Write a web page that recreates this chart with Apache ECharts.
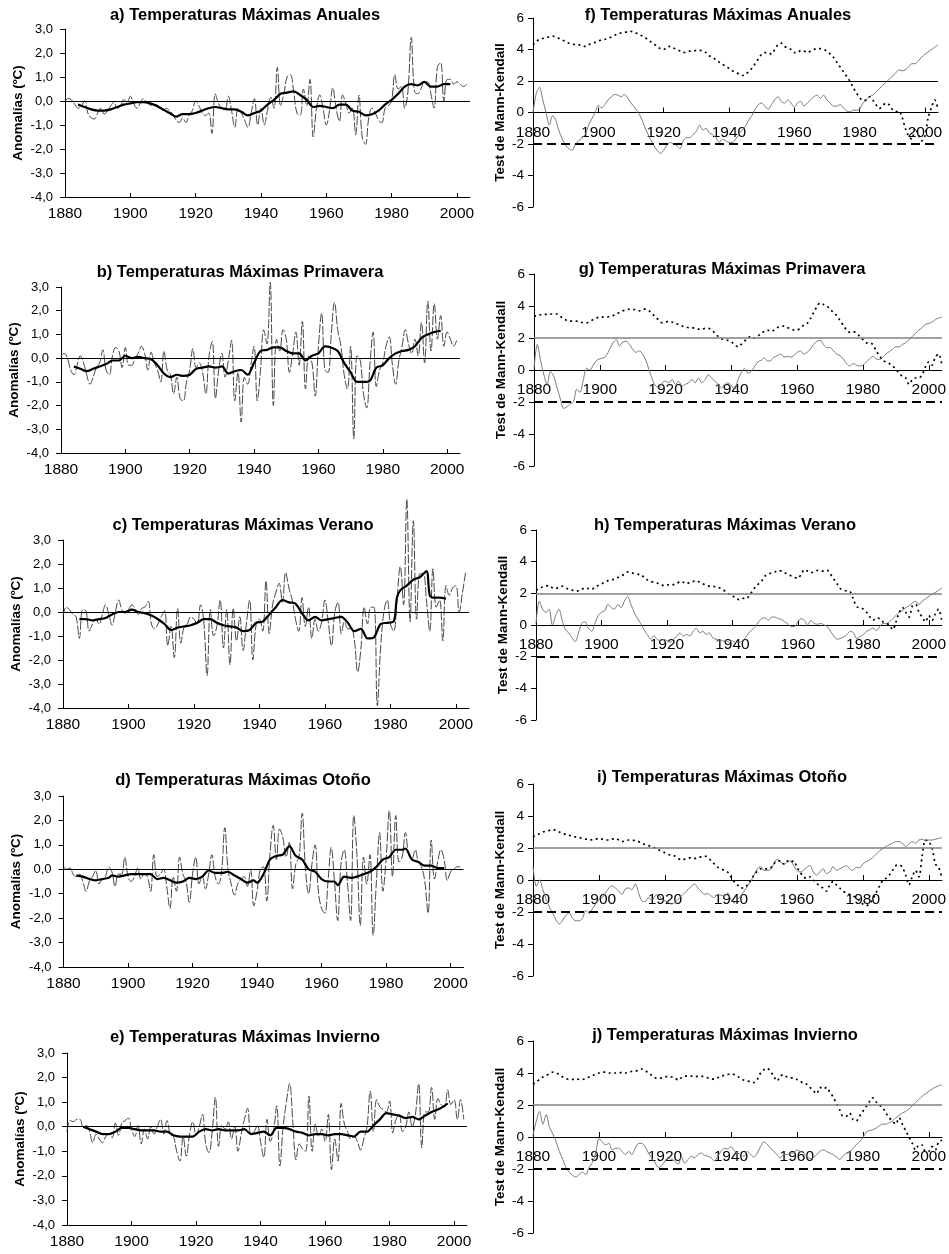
<!DOCTYPE html>
<html>
<head>
<meta charset="utf-8">
<script src="https://cdn.jsdelivr.net/npm/echarts@6/dist/echarts.min.js"></script>
<style>
  html, body { margin: 0; padding: 0; background: #fff; }
  #chart { width: 949px; height: 1254px; }
</style>
</head>
<body>
<div id="chart"></div>
<script>
// ---------- data ----------
const FIRST_YEAR = 1880;
const xTickYears = [1880, 1900, 1920, 1940, 1960, 1980, 2000];

// Annual anomalies of maximum temperature (ºC), 1880-2003
const anomAnnual = [
  0.0, 0.1, 0.05, -0.15, -0.3, -0.2, 0.0, -0.5, -0.7, -0.75,
  -0.5, -0.3, -0.55, -0.4, -0.2, -0.05, -0.3, -0.2, 0.05, -0.05,
  0.2, -0.1, -0.3, -0.1, 0.1, -0.05, -0.15, -0.2, -0.15, -0.3,
  -0.4, -0.3, -0.4, -0.55, -0.8, -0.9, -0.7, -0.9, -0.6, -0.4,
  0.0, -0.2, -0.5, -0.6, -0.5, -1.35, 0.3, -0.1, -0.3, -0.35,
  0.2, -0.4, -1.1, -0.3, -0.5, -0.8, -1.1, -0.5, 0.1, -1.0,
  -0.3, -1.0, -0.4, 0.15, -0.3, 1.4, -0.2, 0.3, 1.0, 1.1,
  0.4, -0.5, -0.6, 0.5, -0.2, 0.9, -1.5, -0.3, 0.25, -0.3,
  -1.0, -0.4, 0.55, -0.3, -0.85, 0.25, -0.1, -0.5, -0.3, -1.4,
  0.25, -1.5, -1.8, -0.7, -0.3, -0.5, -0.8, -0.9, -0.3, -0.2,
  0.0, 1.1, 0.5, 0.6, -0.3, 0.4, 2.65, 0.4, 0.3, 0.5,
  0.8, 0.8, 0.3, -0.3, 1.4, 1.6, 0.0, 0.9, 0.9, 0.7,
  0.8, 0.7, 0.6, 0.7
];
const anomSpring = [
  0.1, 0.2, 0.0, -0.5, -0.7, -0.3, 0.1, -0.2, -0.7, -1.1,
  -0.8, -0.4, -0.2, 0.35, -0.5, -0.7, 0.1, 0.45, 0.3, -0.4,
  0.45, -0.3, -0.3, 0.0, 0.2, 0.5, 0.2, -0.5, 0.25, -0.2,
  -0.5, -1.0, 0.3, -0.5, -0.7, -1.5, -0.8, -1.7, -1.8, -1.0,
  -0.5, 0.4, -0.4, -0.2, -0.6, -1.5, 0.1, 0.7, -1.7, -0.5,
  0.2, -0.8, -0.1, 0.75, -1.8, -0.6, -2.7, -0.8, -1.1, -0.3,
  0.5, -1.8, -0.5, 1.2, 0.6, 3.2, -2.0, 0.8, 0.3, 1.2,
  0.8, -0.6, 0.2, 1.1, -0.3, 1.55, -1.3, 0.1, -0.2, -1.6,
  0.5, 1.9, -0.5, -0.6, 1.0, 2.35, 1.2, 0.5, -0.7, -1.3,
  0.5, -3.4, 0.1, -0.1, -1.5, -2.1, -0.3, 1.1, -1.2, -0.5,
  -0.2, 0.5, 0.9, -0.3, -1.1, -0.1, 0.5, 1.2, 0.6, 0.2,
  0.8, 0.1, 1.5, -0.2, 2.4, 0.3, 2.3, 0.8, 1.8, 0.5,
  1.1, 0.8, 0.5, 0.75
];
const anomSummer = [
  -0.2, 0.2, 0.1, -0.1, -0.2, -1.1, 0.1, 0.05, -0.8, -0.5,
  -0.3, -0.5, -0.1, 0.3, -0.1, -0.55, 0.0, 0.5, 0.1, -0.05,
  0.1, 0.3, 0.15, -0.1, 0.15, 0.2, 0.45, -0.5, -0.7, -0.5,
  -0.2, 0.05, -1.4, -0.6, -1.9, 0.15, -1.3, -0.6, -0.5, -0.2,
  -0.3, -0.5, 0.3, -0.4, -2.65, 0.1, -1.0, -0.6, 0.5, -1.5,
  0.1, -2.2, 0.15, -1.2, -0.2, -1.6, -0.5, 0.5, -2.0, -0.5,
  -0.3, -0.8, 1.3, -0.9, 0.3, 0.8, 1.2, 0.4, 1.65, 1.0,
  0.5, -0.3, -0.8, 0.6, -0.6, 0.2, -1.1, -0.3, -0.8, -0.4,
  0.5, -0.4, -1.4, 0.0, 0.4, -0.9, -0.4, -0.7, -0.7, -1.2,
  -2.5, -1.5, 0.2, -0.5, 0.2, 0.2, -3.9, -1.5, 0.0, 0.5,
  -0.5, -0.8, 0.5, 1.9, 0.3, 4.7, -0.4, 3.8, -0.3, 1.6,
  1.6, 0.5, -0.8, 1.8, 0.2, 0.5, -1.2, 1.1, 0.7, 1.0,
  1.1, 0.0, 0.8, 1.7
];
const anomAutumn = [
  0.1, 0.0, 0.05, -0.2, -0.3, -0.2, -0.5, -0.9, -0.5, -0.3,
  -0.05, -0.6, -0.4, -0.3, 0.1, -0.1, -0.7, -0.2, -0.2, 0.5,
  -0.3, -0.5, -0.3, 0.05, -0.4, -0.2, -0.3, -0.9, 0.6, -0.3,
  -0.2, 0.0, -0.7, -1.6, -0.3, -0.9, 0.5, -0.2, -0.5, -1.35,
  -0.2, 0.5, -0.6, -0.3, -0.8, -0.2, 0.6, -0.3, -0.6, -0.1,
  1.7, 0.0, -0.6, -1.05, -0.6, -0.4, -0.3, -0.7, 0.0, -1.5,
  -0.9, 0.0, 0.1, -1.3, 0.6, 1.8, 0.4, 1.65, 1.3, 0.5,
  1.1, -0.8, 0.2, 0.5, 2.3, 0.0, -1.0, 0.2, 1.0, -0.9,
  -1.6, -1.8, -0.5, 0.9, -0.5, -2.1, 0.2, 0.8, -0.5, -2.1,
  2.2, 0.5, -2.3, 0.5, -0.6, 0.6, -2.7, -0.5, 1.5, -0.9,
  0.4, 2.4, -0.3, 2.2, 0.3, 0.5, 1.5, 0.6, 0.4, 0.8,
  0.3, 0.1, -0.5, -1.8, 1.2, -0.4, 0.3, 0.8, 0.4, -0.45,
  -0.1, 0.0, 0.1, 0.1
];
const anomWinter = [
  -0.2, 0.25, 0.2, 0.3, 0.3, 0.0, 0.05, -0.2, -0.65, -0.3,
  -0.5, -0.65, -0.4, -0.3, -0.45, 0.15, -0.35, 0.15, 0.25, 0.35,
  -0.1, -0.4, 0.05, -0.7, -0.1, -0.5, 0.0, -0.3, 0.0, 0.3,
  -0.3, 0.25, -0.3, -0.4, -1.0, -1.4, -0.4, -1.2, -0.3, 0.2,
  -0.35, 0.0, 0.5, -0.7, -1.05, -0.2, 1.2, -0.8, 0.05, -0.1,
  0.2, -0.5, 0.0, -1.0, -0.3, 0.3, 0.75, -0.3, -0.2, 0.05,
  -0.6, -1.25, 0.3, -0.6, -0.2, 0.85, -1.6, 0.0, 1.0, 1.75,
  0.2, -1.35, -0.7, -0.9, -1.0, 1.25, -1.0, 0.1, -0.4, -0.1,
  -0.6, 0.5, -1.75, -0.5, -1.4, 0.95, 0.1, -0.2, -0.5, -0.4,
  -0.6, -0.95, -0.5, 0.0, 1.45, -0.2, 1.1, 0.8, 0.7, 0.6,
  1.05, -0.25, 0.3, 0.5, -0.2, 0.0, 0.6, 0.0, 0.5, 1.75,
  -0.85, 0.6, 0.6, 1.6, 0.3, 1.15, 0.9, 0.8, 1.5, 0.9,
  1.1, 0.3, 1.1, 0.3
];

// Moving averages [year, ºC]
const maAnnual = [[1884,-0.15],[1886,-0.25],[1888,-0.35],[1890,-0.4],[1892,-0.4],[1894,-0.35],[1896,-0.25],[1898,-0.15],[1900,-0.1],[1902,-0.05],[1904,-0.05],[1906,-0.1],[1908,-0.2],[1910,-0.35],[1912,-0.5],[1914,-0.65],[1916,-0.55],[1918,-0.55],[1920,-0.5],[1922,-0.4],[1924,-0.3],[1926,-0.25],[1928,-0.3],[1930,-0.35],[1932,-0.35],[1934,-0.45],[1936,-0.6],[1938,-0.5],[1940,-0.4],[1942,-0.15],[1944,0.05],[1946,0.3],[1948,0.35],[1950,0.4],[1952,0.25],[1954,0.05],[1956,-0.25],[1958,-0.2],[1960,-0.25],[1962,-0.3],[1964,-0.15],[1966,-0.15],[1968,-0.4],[1970,-0.45],[1972,-0.6],[1974,-0.55],[1976,-0.4],[1978,-0.15],[1980,0.05],[1982,0.3],[1984,0.6],[1986,0.7],[1988,0.65],[1990,0.8],[1992,0.6],[1994,0.6],[1996,0.7],[1998,0.7]];
const maSpring = [[1884,-0.35],[1886,-0.45],[1888,-0.55],[1890,-0.45],[1892,-0.35],[1894,-0.25],[1896,-0.1],[1898,-0.1],[1900,0.1],[1902,0.0],[1904,0.05],[1906,0.0],[1908,-0.05],[1910,-0.3],[1912,-0.65],[1914,-0.8],[1916,-0.7],[1918,-0.75],[1920,-0.7],[1922,-0.45],[1924,-0.4],[1926,-0.35],[1928,-0.4],[1930,-0.35],[1932,-0.65],[1934,-0.55],[1936,-0.5],[1938,-0.7],[1940,-0.2],[1942,0.3],[1944,0.35],[1946,0.45],[1948,0.45],[1950,0.3],[1952,0.2],[1954,0.2],[1956,-0.1],[1958,0.1],[1960,0.2],[1962,0.5],[1964,0.45],[1966,0.3],[1968,-0.2],[1970,-0.6],[1972,-1.0],[1974,-1.0],[1976,-0.95],[1978,-0.4],[1980,-0.3],[1982,0.0],[1984,0.2],[1986,0.3],[1988,0.35],[1990,0.5],[1992,0.85],[1994,1.0],[1996,1.1],[1998,1.15]];
const maSummer = [[1885,-0.3],[1887,-0.3],[1889,-0.35],[1891,-0.3],[1893,-0.25],[1895,-0.1],[1897,0.0],[1899,0.0],[1901,0.1],[1903,0.0],[1905,-0.05],[1907,-0.15],[1909,-0.3],[1911,-0.5],[1913,-0.75],[1915,-0.65],[1917,-0.6],[1919,-0.55],[1921,-0.45],[1923,-0.3],[1925,-0.3],[1927,-0.45],[1929,-0.55],[1931,-0.6],[1933,-0.65],[1935,-0.8],[1937,-0.75],[1939,-0.45],[1941,-0.4],[1943,-0.1],[1945,0.2],[1947,0.5],[1949,0.4],[1951,0.35],[1953,-0.05],[1955,-0.35],[1957,-0.2],[1959,-0.35],[1961,-0.3],[1963,-0.25],[1965,-0.2],[1967,-0.45],[1969,-0.8],[1971,-0.7],[1973,-1.1],[1975,-1.05],[1977,-0.5],[1979,-0.45],[1981,-0.4],[1982,0.6],[1983,0.9],[1985,1.1],[1987,1.35],[1989,1.45],[1991,1.7],[1992,0.7],[1993,0.6],[1995,0.6],[1997,0.55]];
const maAutumn = [[1884,-0.25],[1886,-0.3],[1888,-0.4],[1890,-0.45],[1892,-0.4],[1894,-0.35],[1895,-0.25],[1897,-0.3],[1899,-0.25],[1901,-0.2],[1903,-0.2],[1905,-0.2],[1907,-0.2],[1909,-0.4],[1911,-0.35],[1913,-0.45],[1915,-0.55],[1917,-0.5],[1919,-0.35],[1921,-0.4],[1923,-0.3],[1925,-0.05],[1927,-0.15],[1929,-0.15],[1931,-0.1],[1933,-0.25],[1935,-0.4],[1937,-0.55],[1939,-0.45],[1940,-0.55],[1942,-0.2],[1944,0.4],[1946,0.55],[1948,0.6],[1950,0.95],[1952,0.55],[1954,0.4],[1956,0.0],[1958,-0.1],[1960,-0.4],[1962,-0.5],[1964,-0.5],[1965,-0.65],[1967,-0.3],[1969,-0.35],[1971,-0.3],[1973,-0.2],[1975,-0.1],[1977,0.1],[1979,0.4],[1981,0.5],[1983,0.8],[1985,0.8],[1986,0.85],[1988,0.4],[1990,0.3],[1992,0.15],[1994,0.15],[1996,0.05],[1998,0.05]];
const maWinter = [[1885,0.0],[1887,-0.1],[1889,-0.2],[1891,-0.3],[1893,-0.3],[1895,-0.2],[1897,-0.05],[1899,-0.05],[1901,-0.1],[1903,-0.15],[1905,-0.15],[1907,-0.15],[1909,-0.2],[1911,-0.2],[1913,-0.35],[1915,-0.4],[1917,-0.4],[1919,-0.4],[1921,-0.2],[1923,-0.1],[1925,-0.15],[1927,-0.1],[1929,-0.15],[1931,-0.15],[1933,-0.15],[1935,-0.1],[1937,-0.3],[1939,-0.25],[1941,-0.2],[1943,-0.35],[1945,-0.05],[1947,-0.05],[1949,-0.1],[1951,-0.2],[1953,-0.25],[1955,-0.35],[1957,-0.3],[1959,-0.3],[1961,-0.35],[1963,-0.3],[1965,-0.3],[1967,-0.35],[1969,-0.4],[1971,-0.2],[1973,-0.2],[1975,0.05],[1977,0.3],[1979,0.55],[1981,0.5],[1983,0.45],[1985,0.35],[1987,0.4],[1989,0.3],[1991,0.45],[1993,0.6],[1995,0.7],[1997,0.85],[1998,0.95]];

// Mann-Kendall sequential statistics, 1880-2004: progressive u(t) and retrograde u'(t)
const mkFwdAnnual = [
  0, 1.2, 1.6, 0.8, 0.0, -0.8, -0.2, -0.5, -1.2, -1.7,
  -2.1, -2.3, -2.4, -2.0, -1.8, -1.6, -1.4, -0.8, -0.4, 0.0,
  0.45, 0.3, 0.5, 0.8, 1.0, 1.15, 1.1, 1.0, 1.15, 0.9,
  0.6, 0.35, 0.05, -0.3, -0.8, -1.3, -1.7, -2.1, -2.4, -2.6,
  -2.4, -2.1, -1.9, -2.0, -2.1, -2.3, -1.8, -1.6, -1.6, -1.4,
  -1.2, -0.8, -1.1, -1.0, -1.3, -1.4, -1.6, -1.9, -1.7, -1.8,
  -1.9, -1.9, -1.7, -1.4, -1.1, -0.9, -0.5, -0.2, 0.2, 0.5,
  0.6, 0.4, 0.2, 0.5, 0.8, 1.0, 0.7, 0.6, 0.8, 0.6,
  0.35, 0.6, 0.7, 0.4, 0.6, 0.8, 1.0, 1.1, 0.9, 1.1,
  0.8, 0.6, 0.4, 0.4, 0.5, 0.3, 0.1, 0.05, 0.15, 0.15,
  0.2, 0.6, 0.8, 1.0, 1.1, 1.3, 1.5, 1.7, 1.9, 2.1,
  2.3, 2.5, 2.7, 2.65, 2.7, 2.9, 3.1, 3.1, 3.3, 3.5,
  3.7, 3.85, 4.0, 4.15, 4.3
];
const mkBwdAnnual = [
  4.3, 4.5, 4.65, 4.7, 4.75, 4.8, 4.85, 4.8, 4.7, 4.6,
  4.5, 4.4, 4.35, 4.3, 4.3, 4.25, 4.2, 4.3, 4.4, 4.45,
  4.55, 4.6, 4.65, 4.7, 4.8, 4.9, 5.0, 5.05, 5.1, 5.1,
  5.15, 5.1, 5.0, 4.9, 4.8, 4.65, 4.5, 4.35, 4.2, 4.05,
  4.0, 4.15, 4.2, 4.1, 4.0, 3.9, 3.8, 3.85, 3.9, 3.9,
  3.95, 3.95, 3.9, 3.8, 3.6, 3.5, 3.35, 3.2, 3.05, 2.95,
  2.8, 2.65, 2.55, 2.45, 2.35, 2.4, 2.6, 2.8, 3.1, 3.4,
  3.7, 3.8, 3.8, 3.7, 4.0, 4.3, 4.4, 4.2, 4.1, 4.0,
  3.8, 3.8, 3.95, 3.9, 3.8, 3.9, 4.0, 4.05, 4.05, 4.0,
  3.9, 3.7, 3.5, 3.2, 2.9, 2.6, 2.3, 2.0, 1.6, 1.25,
  0.95, 0.75, 0.8, 1.0, 0.8, 0.5, 0.25, 0.4, 0.6, 0.5,
  0.2, 0.05, 0.1, -0.3, -1.0, -1.5, -1.7, -1.0, -1.4, -1.8,
  -1.5, -0.3, 0.3, 0.8, 0.2
];
const mkFwdSpring = [
  0.1, 1.6, 0.6, -0.3, -0.9, -0.1, -0.4, -1.1, -1.8, -2.4,
  -2.3, -2.1, -2.0, -1.2, -1.4, -0.6, 0.1, 0.0, 0.3, 0.6,
  0.7, 0.75, 0.9, 1.3, 1.7, 1.9, 1.5, 1.75, 1.8, 1.6,
  1.3, 1.1, 1.2, 1.0, 0.6, 0.0, -0.6, -1.0, -1.1, -0.8,
  -0.7, -0.8, -0.6, -0.9, -0.7, -1.0, -0.9, -0.8, -0.6, -0.8,
  -0.5, -0.8, -0.6, -0.3, -0.5, -0.7, -0.9, -1.1, -0.9, -0.8,
  -1.0, -1.2, -0.6, -0.2, 0.1, -0.2, -0.1, 0.2, 0.5, 0.6,
  0.75, 0.55, 0.6, 0.8, 0.9, 1.0, 0.8, 0.85, 0.8, 0.9,
  1.1, 1.2, 1.0, 1.1, 1.3, 1.6, 1.8, 1.85, 1.6, 1.4,
  1.4, 1.2, 1.0, 0.9, 0.7, 0.4, 0.25, 0.4, 0.3, 0.25,
  0.3, 0.5, 0.7, 0.85, 0.7, 0.65, 0.8, 1.0, 1.15, 1.3,
  1.45, 1.45, 1.6, 1.7, 1.9, 2.1, 2.3, 2.5, 2.65, 2.85,
  2.9, 3.0, 3.15, 3.25, 3.3
];
const mkBwdSpring = [
  3.35, 3.4, 3.45, 3.45, 3.5, 3.5, 3.5, 3.5, 3.35, 3.2,
  3.1, 3.05, 3.05, 3.05, 3.0, 2.95, 2.95, 3.05, 3.15, 3.25,
  3.3, 3.3, 3.3, 3.35, 3.4, 3.5, 3.6, 3.7, 3.75, 3.8,
  3.8, 3.75, 3.7, 3.8, 3.8, 3.7, 3.5, 3.3, 3.1, 2.95,
  3.0, 3.05, 3.0, 2.9, 2.85, 2.75, 2.7, 2.65, 2.65, 2.6,
  2.55, 2.55, 2.6, 2.6, 2.5, 2.3, 2.1, 1.95, 1.9, 1.85,
  1.75, 1.6, 1.45, 1.6, 1.8, 2.0, 2.1, 2.0, 2.1, 2.3,
  2.4, 2.5, 2.4, 2.5, 2.65, 2.7, 2.75, 2.65, 2.6, 2.5,
  2.5, 2.65, 2.8, 2.9, 3.2, 3.6, 3.95, 4.2, 4.1, 4.0,
  3.8, 3.6, 3.4, 3.1, 2.8, 2.5, 2.35, 2.4, 2.3, 2.1,
  1.9, 1.7, 1.7, 1.6, 1.2, 0.9, 0.6, 0.5, 0.4, 0.25,
  0.05, -0.2, -0.4, -0.5, -0.9, -0.6, -0.5, -0.5, -0.3, 0.2,
  0.5, 0.3, 0.8, 1.0, 0.3
];
const mkFwdSummer = [
  0.1, 1.5, 1.0, 0.8, 1.0, 0.0, 0.6, 1.0, 0.3, -0.3,
  -0.5, -0.8, -1.05, -0.5, 0.1, 0.2, -0.2, -0.4, 0.1, 0.6,
  0.8, 0.9, 1.3, 1.1, 1.0, 1.3, 1.1, 1.5, 1.8, 1.3,
  0.8, 0.4, 0.1, -0.3, -0.6, -0.9, -0.7, -0.9, -1.0, -0.9,
  -1.0, -1.1, -0.9, -0.7, -0.5, -0.7, -0.6, -0.7, -0.4, -0.2,
  -0.5, -0.4, -0.6, -0.5, -0.8, -0.9, -0.95, -1.0, -1.0, -1.1,
  -1.0, -1.1, -1.1, -1.0, -0.8, -0.5, -0.3, -0.1, 0.2, 0.4,
  0.45, 0.3, 0.5, 0.5, 0.4, 0.35, 0.2, 0.05, -0.1, -0.1,
  0.2, 0.4, 0.3, 0.0, 0.3, 0.1, 0.05, 0.1, 0.0, -0.1,
  -0.4, -0.7, -0.9, -0.85, -0.75, -0.6, -0.4, -0.5, -0.85, -0.75,
  -0.6, -0.4, -0.3, -0.2, -0.35, -0.1, 0.1, 0.1, 0.2, 0.4,
  0.6, 0.8, 0.9, 1.1, 1.2, 1.4, 1.5, 1.3, 1.5, 1.65,
  1.8, 1.95, 2.05, 2.2, 2.35
];
const mkBwdSummer = [
  2.2, 2.3, 2.4, 2.45, 2.5, 2.35, 2.3, 2.4, 2.45, 2.35,
  2.25, 2.2, 2.15, 2.15, 2.25, 2.35, 2.3, 2.25, 2.4, 2.5,
  2.6, 2.7, 2.8, 2.85, 2.9, 3.0, 3.1, 3.2, 3.35, 3.3,
  3.25, 3.2, 3.2, 3.0, 2.85, 2.75, 2.7, 2.65, 2.55, 2.5,
  2.55, 2.5, 2.55, 2.6, 2.75, 2.7, 2.6, 2.7, 2.75, 2.8,
  2.7, 2.6, 2.5, 2.45, 2.45, 2.4, 2.35, 2.25, 2.1, 1.95,
  1.85, 1.7, 1.6, 1.7, 1.65, 1.8, 2.1, 2.4, 2.6, 2.8,
  3.1, 3.2, 3.3, 3.35, 3.45, 3.4, 3.3, 3.2, 3.1, 3.0,
  2.95, 3.2, 3.5, 3.4, 3.3, 3.35, 3.45, 3.4, 3.4, 3.45,
  3.2, 2.9, 2.6, 2.3, 2.2, 2.15, 2.1, 1.6, 1.15, 1.1,
  1.0, 0.8, 0.5, 0.3, 0.45, 0.4, 0.2, 0.1, 0.0, -0.3,
  0.2, 0.8, 1.1, 0.8, 0.5, 1.2, 1.3, 0.8, 0.5, 0.2,
  0.6, 0.3, 0.7, 1.0, 0.2
];
const mkFwdAutumn = [
  0.9, -0.4, 0.0, -0.6, -1.2, -1.7, -2.1, -2.5, -2.75, -2.5,
  -2.2, -2.05, -2.4, -2.55, -2.55, -2.4, -1.9, -2.1, -1.8, -1.5,
  -1.2, -1.1, -0.8, -0.5, -0.35, -0.5, -0.7, -0.9, -0.55, -0.5,
  -0.6, -0.25, -0.8, -1.3, -1.35, -1.1, -1.3, -1.0, -0.9, -1.2,
  -1.3, -1.4, -1.5, -1.4, -1.2, -1.0, -0.8, -0.6, -0.4, -0.25,
  -0.5, -0.7, -0.9, -0.85, -1.0, -1.1, -0.9, -0.95, -1.0, -0.8,
  -1.2, -1.45, -1.2, -1.0, -0.7, -0.4, -0.1, 0.3, 0.7, 0.85,
  0.6, 0.6, 0.65, 1.0, 1.3, 1.15, 1.0, 1.1, 1.2, 0.9,
  0.6, 0.5, 0.6, 0.8, 0.9, 0.5, 0.3, 0.5, 0.7, 0.4,
  0.5, 0.85, 0.6, 0.7, 0.8, 0.9, 0.7, 0.6, 0.8, 0.75,
  1.0, 1.15, 1.25, 1.4, 1.6, 1.8, 1.95, 2.1, 2.2, 2.3,
  2.4, 2.4, 2.3, 2.1, 2.25, 2.4, 2.3, 2.5, 2.55, 2.45,
  2.5, 2.5, 2.55, 2.6, 2.65
];
const mkBwdAutumn = [
  2.7, 2.8, 2.9, 3.0, 3.05, 3.1, 3.15, 3.1, 3.0, 2.9,
  2.85, 2.8, 2.7, 2.7, 2.65, 2.6, 2.55, 2.55, 2.5, 2.55,
  2.6, 2.55, 2.5, 2.5, 2.55, 2.6, 2.5, 2.4, 2.45, 2.5,
  2.5, 2.45, 2.4, 2.3, 2.2, 2.15, 2.1, 2.0, 1.9, 1.8,
  1.7, 1.6, 1.55, 1.5, 1.35, 1.25, 1.3, 1.35, 1.4, 1.35,
  1.4, 1.45, 1.5, 1.4, 1.2, 1.0, 0.8, 0.7, 0.6, 0.5,
  0.2, -0.1, -0.3, -0.5, -0.5, -0.3, 0.0, 0.3, 0.55, 0.7,
  0.7, 0.7, 0.75, 1.0, 1.2, 1.2, 1.0, 1.2, 1.1, 1.2,
  0.8, 0.5, 0.2, 0.1, 0.2, 0.0, -0.2, -0.4, -0.5, -0.7,
  -0.3, -0.1, -0.3, -0.5, -0.7, -0.8, -0.9, -1.0, -1.1, -1.3,
  -1.5, -1.6, -1.5, -1.2, -0.8, -0.4, -0.05, 0.1, 0.3, 0.6,
  0.9, 0.95, 0.8, 0.3, -0.3, 0.2, 0.6, 0.2, 1.5, 2.5,
  2.4, 2.0, 1.0, 0.8, 0.1
];
const mkFwdWinter = [
  0.1, 1.0, 1.6, 0.8, 1.4, 0.6, 0.2, -0.3, -0.9, -1.4,
  -1.9, -2.2, -2.4, -2.5, -2.35, -2.2, -2.35, -1.9, -1.6, -1.0,
  -0.1, -0.3, -0.5, -0.4, -0.8, -0.7, -0.7, -0.9, -1.1, -0.9,
  -1.1, -0.7, -0.4, -0.4, -0.6, -1.0, -1.3, -1.6, -1.9, -1.8,
  -1.5, -1.3, -1.4, -1.5, -1.7, -1.25, -1.65, -1.4, -1.2, -1.3,
  -1.1, -1.0, -1.15, -1.2, -1.3, -1.5, -1.2, -0.9, -0.7, -0.75,
  -0.6, -0.85, -1.0, -1.1, -1.2, -0.9, -1.1, -1.25, -1.0, -0.6,
  -0.3, -0.45, -0.7, -0.9, -1.1, -1.3, -1.1, -1.1, -1.0, -1.0,
  -0.8, -0.9, -1.0, -1.2, -1.35, -1.3, -1.1, -0.9, -0.8, -0.9,
  -1.0, -1.1, -1.25, -1.4, -1.2, -1.0, -0.95, -0.7, -0.5, -0.3,
  -0.05, 0.3, 0.4, 0.45, 0.55, 0.7, 0.8, 0.8, 0.9, 1.0,
  1.2, 1.35, 1.5, 1.6, 1.75, 1.95, 2.15, 2.35, 2.55, 2.7,
  2.85, 3.0, 3.1, 3.2, 3.25
];
const mkBwdWinter = [
  3.3, 3.45, 3.6, 3.75, 3.85, 3.95, 4.05, 4.0, 3.9, 3.75,
  3.65, 3.6, 3.6, 3.65, 3.6, 3.6, 3.65, 3.75, 3.85, 3.9,
  4.0, 4.05, 4.05, 4.0, 4.0, 4.0, 4.0, 4.05, 4.0, 4.05,
  4.1, 4.1, 4.2, 4.25, 4.15, 4.0, 3.85, 3.7, 3.65, 3.7,
  3.75, 3.8, 3.75, 3.7, 3.55, 3.7, 3.8, 3.8, 3.8, 3.75,
  3.8, 3.8, 3.75, 3.7, 3.65, 3.6, 3.7, 3.8, 3.85, 3.9,
  3.95, 3.9, 3.8, 3.65, 3.55, 3.5, 3.45, 3.4, 3.6, 4.0,
  4.2, 4.3, 4.1, 3.8, 3.5, 3.8, 3.9, 3.75, 3.7, 3.7,
  3.6, 3.5, 3.35, 3.3, 3.1, 2.9, 2.7, 3.1, 3.0, 3.1,
  2.8, 2.5, 2.1, 1.7, 1.3, 1.3, 1.5, 1.1, 1.0, 1.3,
  1.6, 1.9, 2.2, 2.45, 2.2, 2.0, 1.85, 1.5, 1.2, 1.0,
  0.8, 1.2, 0.8, 0.4, 0.0, -0.4, -0.8, -0.5, -0.5, -0.9,
  -0.9, -0.6, -0.8, -0.3, -0.2
];

const anomalyTitles = [
  'a) Temperaturas Máximas Anuales',
  'b) Temperaturas Máximas Primavera',
  'c) Temperaturas Máximas Verano',
  'd) Temperaturas Máximas Otoño',
  'e) Temperaturas Máximas Invierno'
];
const trendTitles = [
  'f) Temperaturas Máximas Anuales',
  'g) Temperaturas Máximas Primavera',
  'h) Temperaturas Máximas Verano',
  'i) Temperaturas Máximas Otoño',
  'j) Temperaturas Máximas Invierno'
];

// ---------- layout ----------
const FONT = '"Liberation Sans", Arial, Helvetica, sans-serif';
const leftPanels = [
  { rect: [65, 29, 405, 168], title: [245, 15], anom: anomAnnual, ma: maAnnual },
  { rect: [61, 287, 399, 166], title: [240, 272], anom: anomSpring, ma: maSpring },
  { rect: [63, 540, 406, 168], title: [243, 525], anom: anomSummer, ma: maSummer },
  { rect: [63.5, 796, 400, 171], title: [243, 780], anom: anomAutumn, ma: maAutumn },
  { rect: [67, 1053, 400, 172], title: [245, 1037], anom: anomWinter, ma: maWinter }
];
const rightPanels = [
  { rect: [533, 18, 405, 189], title: [718, 15], fwd: mkFwdAnnual, bwd: mkBwdAnnual, refThin: true },
  { rect: [534, 274, 409, 192], title: [722, 269], fwd: mkFwdSpring, bwd: mkBwdSpring },
  { rect: [536, 530, 407, 190], title: [725, 525], fwd: mkFwdSummer, bwd: mkBwdSummer },
  { rect: [533, 784, 410, 192], title: [722, 777], fwd: mkFwdAutumn, bwd: mkBwdAutumn },
  { rect: [533, 1041, 413, 192], title: [725, 1035], fwd: mkFwdWinter, bwd: mkBwdWinter }
];

const toPairs = (vals) => vals.map((v, i) => [FIRST_YEAR + i, v]);
const axisColor = '#000';

const grid = [], xAxis = [], yAxis = [], series = [], title = [];

function addTitle(text, pos) {
  title.push({
    text, left: pos[0], top: pos[1], padding: 0,
    textAlign: 'center', textVerticalAlign: 'middle',
    textStyle: { fontFamily: FONT, fontSize: 16.5, fontWeight: 'bold', color: '#000' }
  });
}

function yearLabels(margin) {
  return {
    customValues: xTickYears, formatter: v => String(v),
    fontFamily: FONT, fontSize: 15.5, color: '#000', margin
  };
}

// Left column: anomalies with moving average
leftPanels.forEach((p, i) => {
  const g = grid.length;
  grid.push({ left: p.rect[0], top: p.rect[1], width: p.rect[2], height: p.rect[3] });
  addTitle(anomalyTitles[i], p.title);
  const xi = xAxis.length;
  xAxis.push({
    type: 'value', gridIndex: g, min: 1880, max: 2004, position: 'bottom',
    axisLine: { show: true, onZero: false, lineStyle: { color: axisColor, width: 1 } },
    axisTick: { show: true, inside: true, customValues: xTickYears, length: 4, lineStyle: { color: axisColor } },
    axisLabel: yearLabels(9),
    splitLine: { show: false }
  });
  const yi = yAxis.length;
  yAxis.push({
    type: 'value', gridIndex: g, min: -4, max: 3, interval: 1,
    name: 'Anomalías (ºC)', nameLocation: 'middle', nameGap: 40, nameRotate: 90,
    nameTextStyle: { fontFamily: FONT, fontSize: 13.5, fontWeight: 'bold', color: '#000' },
    axisLine: { show: true, onZero: false, lineStyle: { color: axisColor, width: 1 } },
    axisTick: { show: true, length: 5, lineStyle: { color: axisColor } },
    axisLabel: { formatter: v => v.toFixed(1).replace('.', ','), fontFamily: FONT, fontSize: 13, color: '#000', margin: 12 },
    splitLine: { show: false }
  });
  series.push({
    type: 'line', xAxisIndex: xi, yAxisIndex: yi, data: toPairs(p.anom),
    symbol: 'none', smooth: 0.4, clip: false, animation: false,
    lineStyle: { color: '#333', width: 0.9, type: [9, 2] }
  });
  series.push({
    type: 'line', xAxisIndex: xi, yAxisIndex: yi, data: p.ma,
    symbol: 'none', smooth: 0.3, clip: false, animation: false,
    lineStyle: { color: '#000', width: 2.2 },
    markLine: {
      silent: true, symbol: ['none', 'none'], animation: false, label: { show: false },
      data: [{ yAxis: 0, lineStyle: { color: '#000', width: 1, type: 'solid' } }]
    }
  });
});

// Right column: Mann-Kendall sequential test.
// The year axis is lifted from the bottom edge to the middle of the plot,
// which is where zero sits on the symmetric -6..6 scale.
rightPanels.forEach((p, i) => {
  const g = grid.length;
  grid.push({ left: p.rect[0], top: p.rect[1], width: p.rect[2], height: p.rect[3] });
  addTitle(trendTitles[i], p.title);
  const xi = xAxis.length;
  xAxis.push({
    type: 'value', gridIndex: g, min: 1880, max: 2004, position: 'bottom',
    offset: -p.rect[3] / 2,
    axisLine: { show: true, onZero: false, lineStyle: { color: axisColor, width: 1 } },
    axisTick: { show: true, inside: true, customValues: xTickYears, length: 5, lineStyle: { color: axisColor } },
    axisLabel: yearLabels(12),
    splitLine: { show: false }
  });
  const yi = yAxis.length;
  yAxis.push({
    type: 'value', gridIndex: g, min: -6, max: 6, interval: 2,
    name: 'Test de Mann-Kendall', nameLocation: 'middle', nameGap: 26, nameRotate: 90,
    nameTextStyle: { fontFamily: FONT, fontSize: 13.5, fontWeight: 'bold', color: '#000' },
    axisLine: { show: true, onZero: false, lineStyle: { color: axisColor, width: 1 } },
    axisTick: { show: true, length: 5, lineStyle: { color: axisColor } },
    axisLabel: { fontFamily: FONT, fontSize: 13.5, color: '#000', margin: 9 },
    splitLine: { show: false }
  });
  const upperRef = p.refThin
    ? { color: '#000', width: 1, type: 'solid' }
    : { color: '#808080', width: 1.6, type: 'solid' };
  series.push({
    type: 'line', xAxisIndex: xi, yAxisIndex: yi, data: toPairs(p.fwd),
    symbol: 'none', smooth: 0.3, clip: false, animation: false,
    lineStyle: { color: '#7a7a7a', width: 1 },
    markLine: {
      silent: true, symbol: ['none', 'none'], animation: false, label: { show: false },
      data: [
        { yAxis: 2, lineStyle: upperRef },
        { yAxis: -2, lineStyle: { color: '#000', width: 2, type: [9, 5] } }
      ]
    }
  });
  series.push({
    type: 'line', xAxisIndex: xi, yAxisIndex: yi, data: toPairs(p.bwd),
    symbol: 'none', smooth: 0.3, clip: false, animation: false,
    lineStyle: { color: '#000', width: 1.7, type: [2, 3.5] }
  });
});

const chart = echarts.init(document.getElementById('chart'), null, { renderer: 'canvas' });
chart.setOption({
  backgroundColor: '#fff',
  animation: false,
  title, grid, xAxis, yAxis, series
});
</script>
</body>
</html>
